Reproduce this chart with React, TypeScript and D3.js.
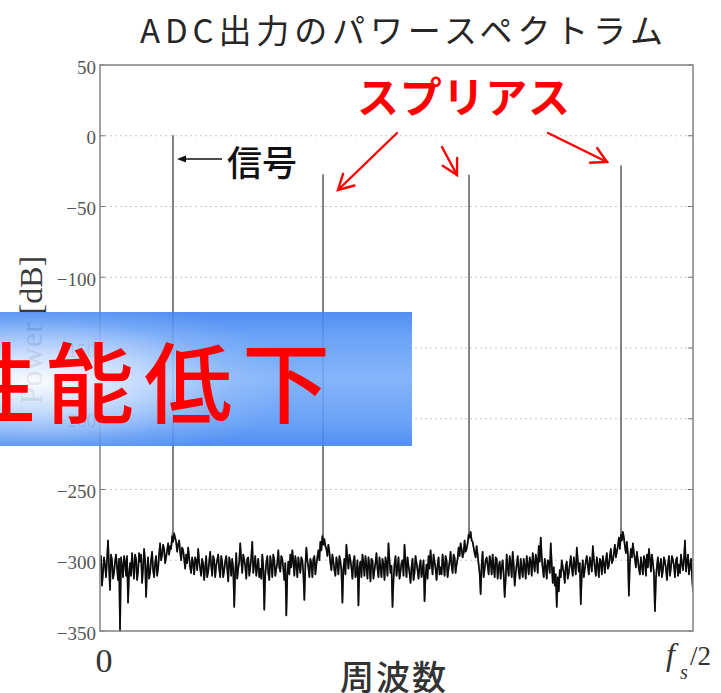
import React from 'react';
import * as d3 from 'd3';

const W = 721;
const H = 693;

// y axis ticks (dB)
const yTicks = [50, 0, -50, -100, -150, -200, -250, -300, -350];
const yTickLabels = ['50', '0', '\u221250', '\u2212100', '\u2212150', '\u2212200', '\u2212250', '\u2212300', '\u2212350'];

// noise floor in dB, samples k = 0..296 at k/296 of fs/2
const noiseEven = [
  -306, -318, -298, -312, -286, -321, -300, -309, -296, -314,
  -350, -304, -297, -311, -330, -302, -295, -313, -299, -308,
  -301, -316, -292, -326, -298, -309, -294, -312, -297, -306,
  -288, -296, -292, -298, -288, -290, -283, -281, -287, -289,
  -294, -291, -299, -296, -291, -305, -298, -310, -300, -292,
  -306, -299, -314, -297, -308, -294, -311, -300, -304, -296,
  -312, -301, -307, -297, -315, -302, -299, -333, -295, -306,
  -288, -309, -300, -313, -298, -305, -287, -303, -311, -299,
  -306, -296, -335, -302, -309, -297, -312, -300, -306, -293,
  -308, -299, -314, -339, -301, -296, -293, -311, -303, -298,
  -309, -300, -328, -291, -305, -299, -312, -297, -303, -293,
  -287, -283, -285, -292, -289, -302, -296, -307, -298, -310,
  -301, -330, -299, -289, -306, -300, -313, -297, -309, -332,
  -301, -296, -311, -304, -298, -315, -300, -307, -295, -312,
  -305, -299, -314, -302, -288, -309, -333, -303, -311, -298,
  -308, -300, -289, -312, -304, -316, -299, -309, -302, -313,
  -300, -307, -329, -303, -297, -293, -310, -301, -314, -298,
  -305, -296, -311, -300, -306, -294, -309, -298, -303, -291,
  -288, -298, -286, -292, -282, -280, -287, -295, -290, -303,
  -324, -294, -306, -298, -310, -301, -296, -312, -299, -305,
  -313, -300, -326, -296, -311, -302, -294, -318, -303, -308,
  -299, -312, -304, -297, -310, -301, -295, -308, -300, -290,
  -284, -306, -299, -313, -301, -288, -316, -318, -333, -322,
  -312, -305, -316, -301, -309, -297, -311, -303, -291, -308,
  -331, -300, -306, -297, -310, -302, -290, -305, -298, -312,
  -301, -297, -309, -295, -304, -292, -300, -289, -294, -284,
  -282, -280, -290, -287, -325, -292, -288, -299, -294, -306,
  -298, -310, -300, -296, -292, -308, -302, -336, -304, -311,
  -299, -307, -301, -314, -297, -305, -300, -312, -298, -303,
  -296, -307, -286, -301, -310, -299, -322,
];

// noise floor in dB, samples halfway between the ones above, at (k + 0.5)/296
const noiseOdd = [
  -297, -309, -303, -300, -305, -296, -313, -301, -305, -299,
  -298, -312, -301, -297, -310, -311, -304, -296, -314, -295,
  -296, -306, -300, -306, -313, -300, -307, -302, -311, -296,
  -300, -289, -302, -293, -296, -292, -287, -284, -294, -286,
  -300, -293, -306, -302, -298, -309, -302, -298, -307, -301,
  -311, -303, -305, -312, -301, -304, -297, -312, -300, -306,
  -297, -312, -301, -306, -298, -311, -306, -309, -313, -301,
  -300, -296, -304, -299, -311, -298, -309, -297, -305, -312,
  -313, -304, -310, -297, -314, -303, -296, -311, -302, -305,
  -297, -306, -302, -311, -310, -305, -300, -297, -312, -304,
  -298, -309, -304, -300, -312, -302, -299, -310, -298, -300,
  -293, -289, -290, -297, -294, -307, -301, -311, -303, -297,
  -307, -306, -310, -299, -296, -305, -301, -312, -300, -305,
  -312, -302, -297, -313, -304, -299, -313, -302, -306, -298,
  -312, -303, -298, -311, -300, -304, -314, -297, -306, -313,
  -302, -311, -301, -298, -309, -305, -314, -297, -307, -304,
  -312, -300, -311, -313, -306, -302, -296, -306, -303, -310,
  -310, -303, -297, -312, -301, -304, -296, -309, -299, -297,
  -292, -295, -294, -288, -284, -286, -291, -298, -296, -309,
  -303, -312, -300, -304, -297, -310, -305, -298, -313, -301,
  -305, -310, -313, -305, -297, -312, -303, -309, -297, -313,
  -306, -299, -313, -303, -298, -311, -302, -296, -309, -301,
  -298, -312, -305, -300, -309, -303, -305, -310, -312, -307,
  -300, -309, -304, -313, -303, -306, -298, -310, -300, -302,
  -309, -312, -301, -304, -298, -308, -299, -311, -304, -299,
  -310, -302, -300, -306, -297, -302, -295, -298, -290, -292,
  -286, -284, -295, -296, -301, -298, -295, -305, -300, -310,
  -304, -297, -311, -305, -299, -296, -309, -313, -298, -304,
  -312, -298, -306, -303, -311, -297, -304, -300, -311, -309,
  -302, -299, -308, -296, -304, -311,
];

// signal and spurious tones: position (fraction of fs/2), top and foot in dB
const toneFreq = [0.1231, 0.3761, 0.6223, 0.8786];
const toneTopDb = [0, -27.7, -28, -21.4];
const toneFootDb = [-279, -281, -278, -277];

const PL = 100, PR = 693, PT = 65, PB = 631;

export default function App() {
  const x = d3.scaleLinear().domain([0, 1]).range([PL, PR]);
  const y = d3.scaleLinear().domain([-350, 50]).range([PB, PT]);

  const m = noiseEven.length - 1;
  const noisePts: [number, number][] = [];
  noiseEven.forEach((v, k) => {
    noisePts.push([k / m, v]);
    if (k < noiseOdd.length) noisePts.push([(k + 0.5) / m, noiseOdd[k]]);
  });

  const pts: [number, number][] = [];
  let t = 0;
  for (const p of noisePts) {
    while (t < toneFreq.length && toneFreq[t] < p[0]) {
      pts.push([toneFreq[t], toneFootDb[t]]);
      pts.push([toneFreq[t], toneTopDb[t]]);
      pts.push([toneFreq[t], toneFootDb[t]]);
      t++;
    }
    pts.push(p);
  }
  const line = d3.line<[number, number]>().x(d => x(d[0])).y(d => y(d[1]));
  const path = line(pts) || '';
  const noisePath = line(noisePts) || '';

  const serif = '"Liberation Serif", "DejaVu Serif", serif';
  const jp = '"Noto Sans CJK JP", sans-serif';

  const redArrows = [
    [397, 133, 338, 190],
    [442, 147, 457, 175],
    [548, 133, 607, 162],
  ];
  const head = (x1: number, y1: number, x2: number, y2: number, len: number, ang: number) => {
    const a = Math.atan2(y2 - y1, x2 - x1);
    const p1 = [x2 - len * Math.cos(a - ang), y2 - len * Math.sin(a - ang)];
    const p2 = [x2 - len * Math.cos(a + ang), y2 - len * Math.sin(a + ang)];
    return `M${p1[0]},${p1[1]}L${x2},${y2}L${p2[0]},${p2[1]}`;
  };

  return (
    <svg width={W} height={H} style={{ position: 'absolute', left: 0, top: 0, display: 'block', background: '#fff' }}>
      <defs>
        <clipPath id="plotClip">
          <rect x={PL} y={PT - 1} width={PR - PL} height={PB - PT + 2} />
        </clipPath>
        <linearGradient id="boxV" x1="0" y1="0" x2="0" y2="1">
          <stop offset="0" stopColor="#3f84f0" />
          <stop offset="0.18" stopColor="#5b99f7" />
          <stop offset="0.5" stopColor="#78adfa" />
          <stop offset="0.82" stopColor="#5b99f7" />
          <stop offset="1" stopColor="#3f84f0" />
        </linearGradient>
        <radialGradient id="boxGlow" cx="0.1" cy="0.52" r="0.62" fx="0.08" fy="0.52">
          <stop offset="0" stopColor="#ffffff" stopOpacity="0.97" />
          <stop offset="0.35" stopColor="#ffffff" stopOpacity="0.6" />
          <stop offset="0.75" stopColor="#ffffff" stopOpacity="0.12" />
          <stop offset="1" stopColor="#ffffff" stopOpacity="0" />
        </radialGradient>
      </defs>

      {/* title */}
      <text x={140} y={43} fontFamily={jp} fontSize={33} fill="#262626" textLength={523} lengthAdjust="spacing">
        ADC出力のパワースペクトラム
      </text>

      {/* grid */}
      {yTicks.slice(1, -1).map(v => (
        <line key={'g' + v} x1={PL} x2={PR} y1={y(v)} y2={y(v)} stroke="#c8c8c8" strokeWidth={1} strokeDasharray="2,3" />
      ))}

      {/* y ticks and labels */}
      {yTicks.map((v, i) => (
        <g key={'t' + v}>
          <line x1={PL} x2={PL + 5} y1={y(v)} y2={y(v)} stroke="#777" strokeWidth={1} />
          <line x1={PR - 5} x2={PR} y1={y(v)} y2={y(v)} stroke="#777" strokeWidth={1} />
          <text x={96} y={y(v) + 2} textAnchor="end" dominantBaseline="central" fontFamily={serif} fontSize={19} fill="#555">
            {yTickLabels[i]}
          </text>
        </g>
      ))}

      {/* y axis label */}
      <text transform="translate(31,330) rotate(-90)" textAnchor="middle" dominantBaseline="central" fontFamily={serif} fontSize={32} fill="#3a3a3a">
        Power [dB]
      </text>

      {/* spectrum */}
      <g clipPath="url(#plotClip)">
        <path d={path} fill="none" stroke="#555" strokeWidth={1.7} strokeOpacity={0.85} strokeLinejoin="round" />
        <path d={noisePath} fill="none" stroke="#000" strokeWidth={1.6} strokeOpacity={0.9} strokeLinejoin="round" />
      </g>

      {/* frame */}
      <rect x={PL} y={PT} width={PR - PL} height={PB - PT} fill="none" stroke="#8a8a8a" strokeWidth={1.6} />

      {/* x labels */}
      <text x={104} y={672} textAnchor="middle" fontFamily={serif} fontSize={34} fill="#333">0</text>
      <text x={666} y={665} fontFamily={serif} fontSize={32} fontStyle="italic" fill="#333">f</text>
      <text x={680} y={679} fontFamily={serif} fontSize={20} fontStyle="italic" fill="#333">s</text>
      <text x={690} y={665} fontFamily={serif} fontSize={27} fill="#333">/2</text>
      <text x={394} y={690} textAnchor="middle" fontFamily={jp} fontSize={34} fontWeight={500} fill="#333" letterSpacing={2}>周波数</text>

      {/* signal annotation */}
      <line x1={222} x2={182} y1={159} y2={159} stroke="#111" strokeWidth={1.6} />
      <path d="M177,159L186,155.5L186,162.5Z" fill="#111" />
      <text x={227} y={176} fontFamily={jp} fontSize={35} fontWeight={500} fill="#111">信号</text>

      {/* spurious annotation */}
      <text x={357} y={113} fontFamily={jp} fontSize={42} fontWeight={700} fill="#ff0000" textLength={213} lengthAdjust="spacing">スプリアス</text>
      {redArrows.map((a, i) => (
        <g key={'ra' + i} stroke="#ff0000" strokeWidth={2.4} fill="none" strokeLinecap="round">
          <line x1={a[0]} y1={a[1]} x2={a[2]} y2={a[3]} />
          <path d={head(a[0], a[1], a[2], a[3], 17, 0.5)} />
        </g>
      ))}

      {/* blue banner */}
      <g opacity={0.9}>
        <rect x={0} y={312} width={412} height={134} fill="url(#boxV)" />
        <rect x={0} y={312} width={412} height={134} fill="url(#boxGlow)" />
      </g>
      <text x={-52} y={416} fontFamily={jp} fontSize={88} fontWeight={500} fill="#ff0000" letterSpacing={10}>性能低下</text>
    </svg>
  );
}
